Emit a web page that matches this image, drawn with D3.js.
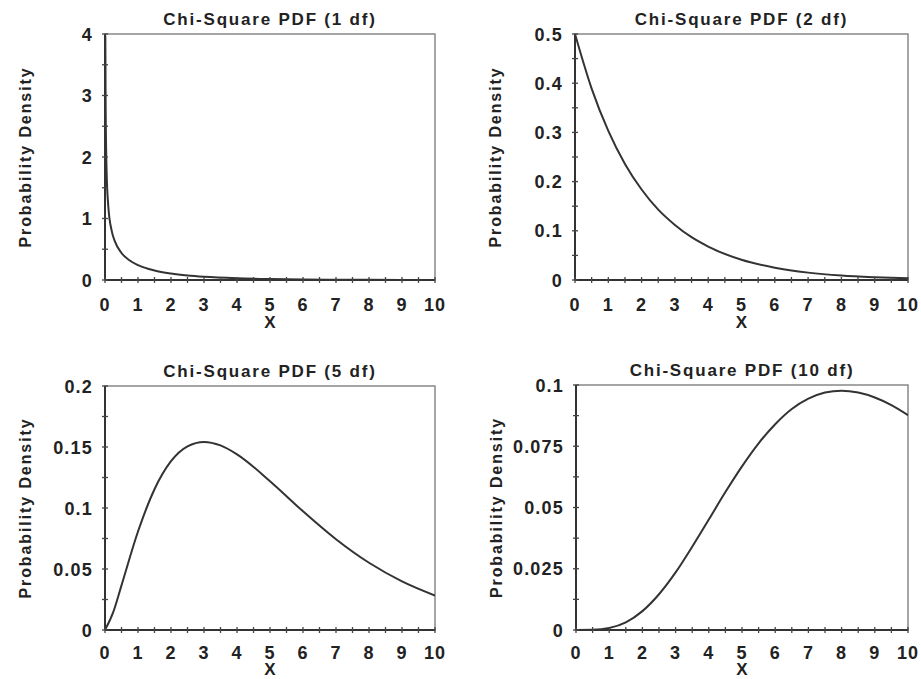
<!DOCTYPE html>
<html>
<head>
<meta charset="utf-8">
<script src="https://cdn.jsdelivr.net/npm/d3@7"></script>
<style>
  body { margin: 0; background: #fff; }
  text { font-family: "Liberation Sans", Arial, sans-serif; font-weight: bold; fill: #222; }
</style>
</head>
<body>
<div id="chart"></div>
<script>
// values
const titles = ["Chi-Square PDF (1 df)", "Chi-Square PDF (2 df)", "Chi-Square PDF (5 df)", "Chi-Square PDF (10 df)"];

const x1 = [0.01, 0.02, 0.05, 0.1, 0.2, 0.3, 0.5, 0.75, 1, 1.5, 2, 2.5, 3, 4, 5, 6, 7, 8, 9, 10];
const y1 = [3.97, 2.79, 1.74, 1.20, 0.807, 0.627, 0.439, 0.317, 0.242, 0.154, 0.104, 0.072, 0.051, 0.027, 0.015, 0.008, 0.005, 0.003, 0.0015, 0.0008];

const x2 = [0, 0.5, 1, 1.5, 2, 2.5, 3, 3.5, 4, 5, 6, 7, 8, 9, 10];
const y2 = [0.5, 0.389, 0.303, 0.236, 0.184, 0.143, 0.112, 0.087, 0.068, 0.041, 0.025, 0.015, 0.009, 0.0056, 0.0034];

const x5 = [0, 0.25, 0.5, 1, 1.5, 2, 2.5, 3, 3.5, 4, 5, 6, 7, 8, 9, 10];
const y5 = [0, 0.0147, 0.0366, 0.0807, 0.1154, 0.1384, 0.1506, 0.1542, 0.1513, 0.144, 0.122, 0.0973, 0.0744, 0.0551, 0.0399, 0.0283];

const x10 = [0, 0.5, 1, 1.5, 2, 2.5, 3, 3.5, 4, 4.5, 5, 5.5, 6, 6.5, 7, 7.5, 8, 8.5, 9, 9.5, 10];
const y10 = [0, 0.00006, 0.0008, 0.0031, 0.0077, 0.0146, 0.0235, 0.034, 0.0451, 0.0563, 0.0668, 0.0762, 0.084, 0.0902, 0.0944, 0.0969, 0.0977, 0.0969, 0.0949, 0.0918, 0.0877];

const xTicks = [0, 1, 2, 3, 4, 5, 6, 7, 8, 9, 10];
const yTicks1 = [0, 1, 2, 3, 4];
const yTicks2 = [0, 0.1, 0.2, 0.3, 0.4, 0.5];
const yTicks5 = [0, 0.05, 0.1, 0.15, 0.2];
const yTicks10 = [0, 0.025, 0.05, 0.075, 0.1];

let width = 921;
let height = 679;

let svg = d3.select("#chart").append("svg")
  .attr("width", width)
  .attr("height", height);

// box = [left, right, top, bottom]; lab = offsets below the x axis for tick labels and "X"
let panels = [
  { xs: x1, ys: y1, yt: yTicks1, box: [105, 435, 34, 280], lab: [31, 48] },
  { xs: x2, ys: y2, yt: yTicks2, box: [575, 908, 34, 280], lab: [31, 48] },
  { xs: x5, ys: y5, yt: yTicks5, box: [105, 435, 386, 630], lab: [29, 45] },
  { xs: x10, ys: y10, yt: yTicks10, box: [576, 908, 385, 630], lab: [29, 45] }
];

panels.forEach(function (p, i) {
  let [left, right, top, bottom] = p.box;
  let yMax = p.yt[p.yt.length - 1];
  let x = d3.scaleLinear().domain([0, 10]).range([left, right]);
  let y = d3.scaleLinear().domain([0, yMax]).range([bottom, top]);
  let g = svg.append("g");

  // frame
  g.append("rect")
    .attr("x", left).attr("y", top)
    .attr("width", right - left).attr("height", bottom - top)
    .attr("fill", "none").attr("stroke", "#888").attr("stroke-width", 1.5);

  g.append("clipPath").attr("id", "clip" + i)
    .append("rect")
    .attr("x", left).attr("y", top - 1)
    .attr("width", right - left).attr("height", bottom - top + 1);

  // curve
  let pts = p.xs.map((v, k) => [v, p.ys[k]]);
  g.append("path")
    .datum(pts)
    .attr("clip-path", "url(#clip" + i + ")")
    .attr("fill", "none")
    .attr("stroke", "#333")
    .attr("stroke-width", 2)
    .attr("d", d3.line().x(d => x(d[0])).y(d => y(d[1])).curve(d3.curveMonotoneX));

  // axis lines
  g.append("line").attr("x1", left).attr("x2", right).attr("y1", bottom).attr("y2", bottom)
    .attr("stroke", "#333").attr("stroke-width", 2);
  g.append("line").attr("x1", left).attr("x2", left).attr("y1", top).attr("y2", bottom)
    .attr("stroke", "#333").attr("stroke-width", 2);

  // x ticks, major and half steps
  let xMinor = d3.range(0.5, 10, 1);
  g.selectAll(".xt").data(xTicks.concat(xMinor)).enter().append("line")
    .attr("x1", d => x(d)).attr("x2", d => x(d))
    .attr("y1", bottom - 3).attr("y2", bottom + 3)
    .attr("stroke", "#444").attr("stroke-width", 1.3);

  g.selectAll(".xl").data(xTicks).enter().append("text")
    .attr("x", d => x(d)).attr("y", bottom + p.lab[0])
    .attr("text-anchor", "middle")
    .style("font-size", "18px").style("letter-spacing", "1px")
    .text(d => d);

  // y ticks
  let step = p.yt[1] - p.yt[0];
  let yMinor = p.yt.slice(0, -1).map(v => v + step / 2);
  g.selectAll(".yt").data(p.yt.concat(yMinor)).enter().append("line")
    .attr("x1", left - 3).attr("x2", left + 3)
    .attr("y1", d => y(d)).attr("y2", d => y(d))
    .attr("stroke", "#444").attr("stroke-width", 1.3);

  g.selectAll(".yl").data(p.yt).enter().append("text")
    .attr("x", left - 12).attr("y", d => y(d) + 6.5)
    .attr("text-anchor", "end")
    .style("font-size", "18px").style("letter-spacing", "1.2px")
    .text(d => d);

  // titles and axis labels
  g.append("text")
    .attr("x", (left + right) / 2).attr("y", top - 9)
    .attr("text-anchor", "middle")
    .style("font-size", "17px").style("letter-spacing", "1.8px")
    .text(titles[i]);

  g.append("text")
    .attr("x", (left + right) / 2).attr("y", bottom + p.lab[1])
    .attr("text-anchor", "middle")
    .style("font-size", "17px")
    .text("X");

  let lx = left - 74;
  let ly = (top + bottom) / 2;
  g.append("text")
    .attr("transform", "translate(" + lx + "," + ly + ") rotate(-90)")
    .attr("text-anchor", "middle")
    .style("font-size", "16px").style("letter-spacing", "1.9px")
    .text("Probability Density");
});
</script>
</body>
</html>
